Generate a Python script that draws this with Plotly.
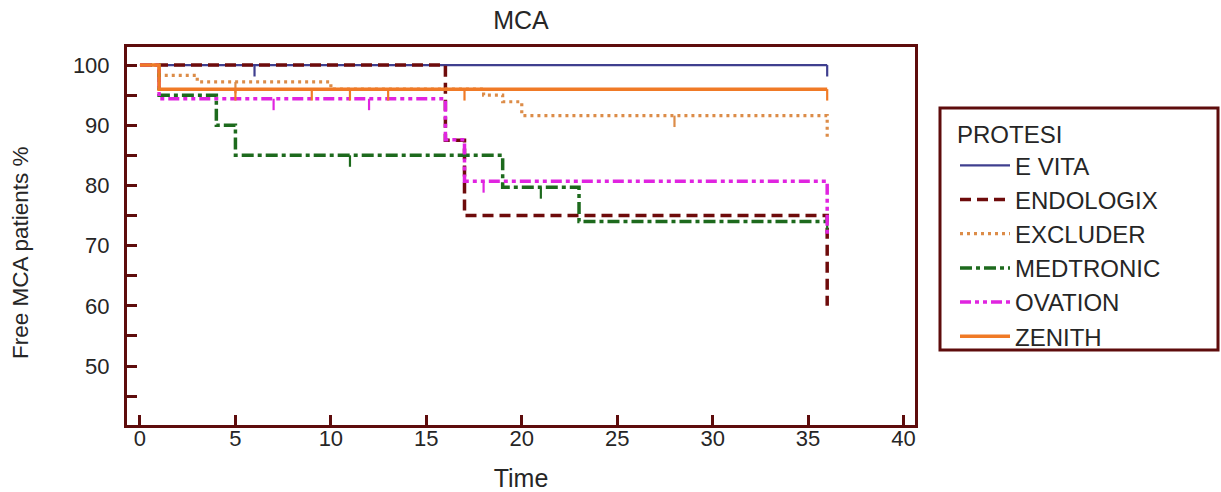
import numpy as np
import plotly.graph_objects as go

# ---------------- data ----------------
series_names = ["E VITA", "ENDOLOGIX", "EXCLUDER", "MEDTRONIC", "OVATION", "ZENITH"]

evita_time = [0, 36]
evita_surv = [100, 100]
evita_cens = [6, 36]

endologix_time = [0, 16, 17, 36]
endologix_surv = [100, 87.5, 75, 60]
endologix_cens = []

excluder_time = [0, 1, 3, 10, 18, 19, 20, 36]
excluder_surv = [100, 98.3, 97.2, 96.0, 95.0, 93.9, 91.6, 87.6]
excluder_cens = [5, 28]

medtronic_time = [0, 1, 4, 5, 19, 23, 36]
medtronic_surv = [100, 95, 90, 85, 79.7, 74.0, 74.0]
medtronic_cens = [11, 21, 36]

ovation_time = [0, 1, 16, 17, 36]
ovation_surv = [100, 94.4, 87.6, 80.7, 71.7]
ovation_cens = [7, 12, 18]

zenith_time = [0, 1, 36]
zenith_surv = [100, 96, 96]
zenith_cens = [5, 9, 11, 13, 17, 36]

x_ticks = [0, 5, 10, 15, 20, 25, 30, 35, 40]
y_ticks = [50, 60, 70, 80, 90, 100]

# ---------------- styles ----------------
FRAME = "#5e0c0c"
TEXT = "#262626"
FONT = "Liberation Sans, Arial, sans-serif"
CENSOR_LEN = 1.9

styles = {
    "E VITA":    dict(color="#3f3f8f", width=2.2, dash="solid"),
    "ENDOLOGIX": dict(color="#6e0b0b", width=3.5, dash="11px,6px"),
    "EXCLUDER":  dict(color="#dc8c48", width=3.2, dash="3px,4px"),
    "MEDTRONIC": dict(color="#1d6a1d", width=3.5, dash="12px,4px,4px,4px"),
    "OVATION":   dict(color="#e024e0", width=3.5, dash="11px,4px,4px,4px,4px,4px"),
    "ZENITH":    dict(color="#f07a26", width=3.5, dash="solid"),
}

data = {
    "E VITA": (evita_time, evita_surv, evita_cens),
    "ENDOLOGIX": (endologix_time, endologix_surv, endologix_cens),
    "EXCLUDER": (excluder_time, excluder_surv, excluder_cens),
    "MEDTRONIC": (medtronic_time, medtronic_surv, medtronic_cens),
    "OVATION": (ovation_time, ovation_surv, ovation_cens),
    "ZENITH": (zenith_time, zenith_surv, zenith_cens),
}

fig = go.Figure()
for name in series_names:
    t, s, c = data[name]
    st = styles[name]
    fig.add_trace(go.Scatter(
        x=t, y=s, mode="lines", name=name, legendgroup=name,
        line=dict(color=st["color"], width=st["width"], dash=st["dash"], shape="hv"),
    ))
    if c:
        t_arr = np.array(t)
        s_arr = np.array(s)
        idx = np.searchsorted(t_arr, np.array(c), side="right") - 1
        cy = s_arr[idx]
        fig.add_trace(go.Scatter(
            x=c, y=cy, mode="markers", legendgroup=name, showlegend=False,
            marker=dict(size=1, color=st["color"], opacity=0),
            error_y=dict(type="data", symmetric=False, array=[0] * len(c),
                         arrayminus=[CENSOR_LEN] * len(c), width=0,
                         thickness=2.2, color=st["color"]),
            hoverinfo="skip",
        ))

W, H = 1221, 492
L, R, T, B = 127, 306, 47, 67
pw, ph = W - L - R, H - T - B

def px_x(p):
    return (p - L) / pw

def px_y(p):
    return (H - B - p) / ph

fig.update_layout(
    width=W, height=H,
    margin=dict(l=L, r=R, t=T, b=B, autoexpand=False),
    paper_bgcolor="white", plot_bgcolor="white",
    font=dict(family=FONT, size=22, color=TEXT),
    title=dict(text="MCA", x=0.5, xref="paper", xanchor="center",
               y=1 - 20 / H, yref="container", yanchor="middle",
               font=dict(size=25, color=TEXT)),
    xaxis=dict(
        range=[-0.68, 40.6], tickvals=x_ticks, ticks="inside", ticklen=10,
        tickwidth=3, tickcolor=FRAME, showline=True, mirror=True,
        linecolor=FRAME, linewidth=3, showgrid=False, zeroline=False,
        tickfont=dict(size=22, color=TEXT), automargin=False,
        ticklabelstandoff=-8,
        title=dict(text="Time", standoff=29, font=dict(size=25, color=TEXT)),
    ),
    yaxis=dict(
        range=[40.2, 103], tickvals=y_ticks, ticks="inside", ticklen=10,
        tickwidth=3, tickcolor=FRAME, showline=True, mirror=True,
        linecolor=FRAME, linewidth=3, showgrid=False, zeroline=False,
        minor=dict(dtick=5, tick0=0, ticks="inside", ticklen=10,
                   tickwidth=3, tickcolor=FRAME, showgrid=False),
        tickfont=dict(size=22, color=TEXT), ticklabelstandoff=10,
        automargin=False,
    ),
    annotations=[dict(text="Free MCA patients %", textangle=-90,
                      xref="paper", yref="paper", x=px_x(20), y=px_y(253),
                      xanchor="center", yanchor="middle", showarrow=False,
                      font=dict(size=22.5, color=TEXT))],
    legend=dict(
        x=px_x(955), y=px_y(112), xanchor="left", yanchor="top",
        bgcolor="rgba(0,0,0,0)", borderwidth=0,
        font=dict(size=24, color=TEXT),
        title=dict(text="PROTESI", font=dict(size=24, color=TEXT)),
        tracegroupgap=0, itemwidth=50, traceorder="grouped",
    ),
    shapes=[dict(type="rect", xref="paper", yref="paper",
                 x0=px_x(940), x1=px_x(1218), y0=px_y(350), y1=px_y(108),
                 line=dict(color=FRAME, width=3), fillcolor="rgba(0,0,0,0)")],
    showlegend=True,
)

fig.write_html("out.html")
